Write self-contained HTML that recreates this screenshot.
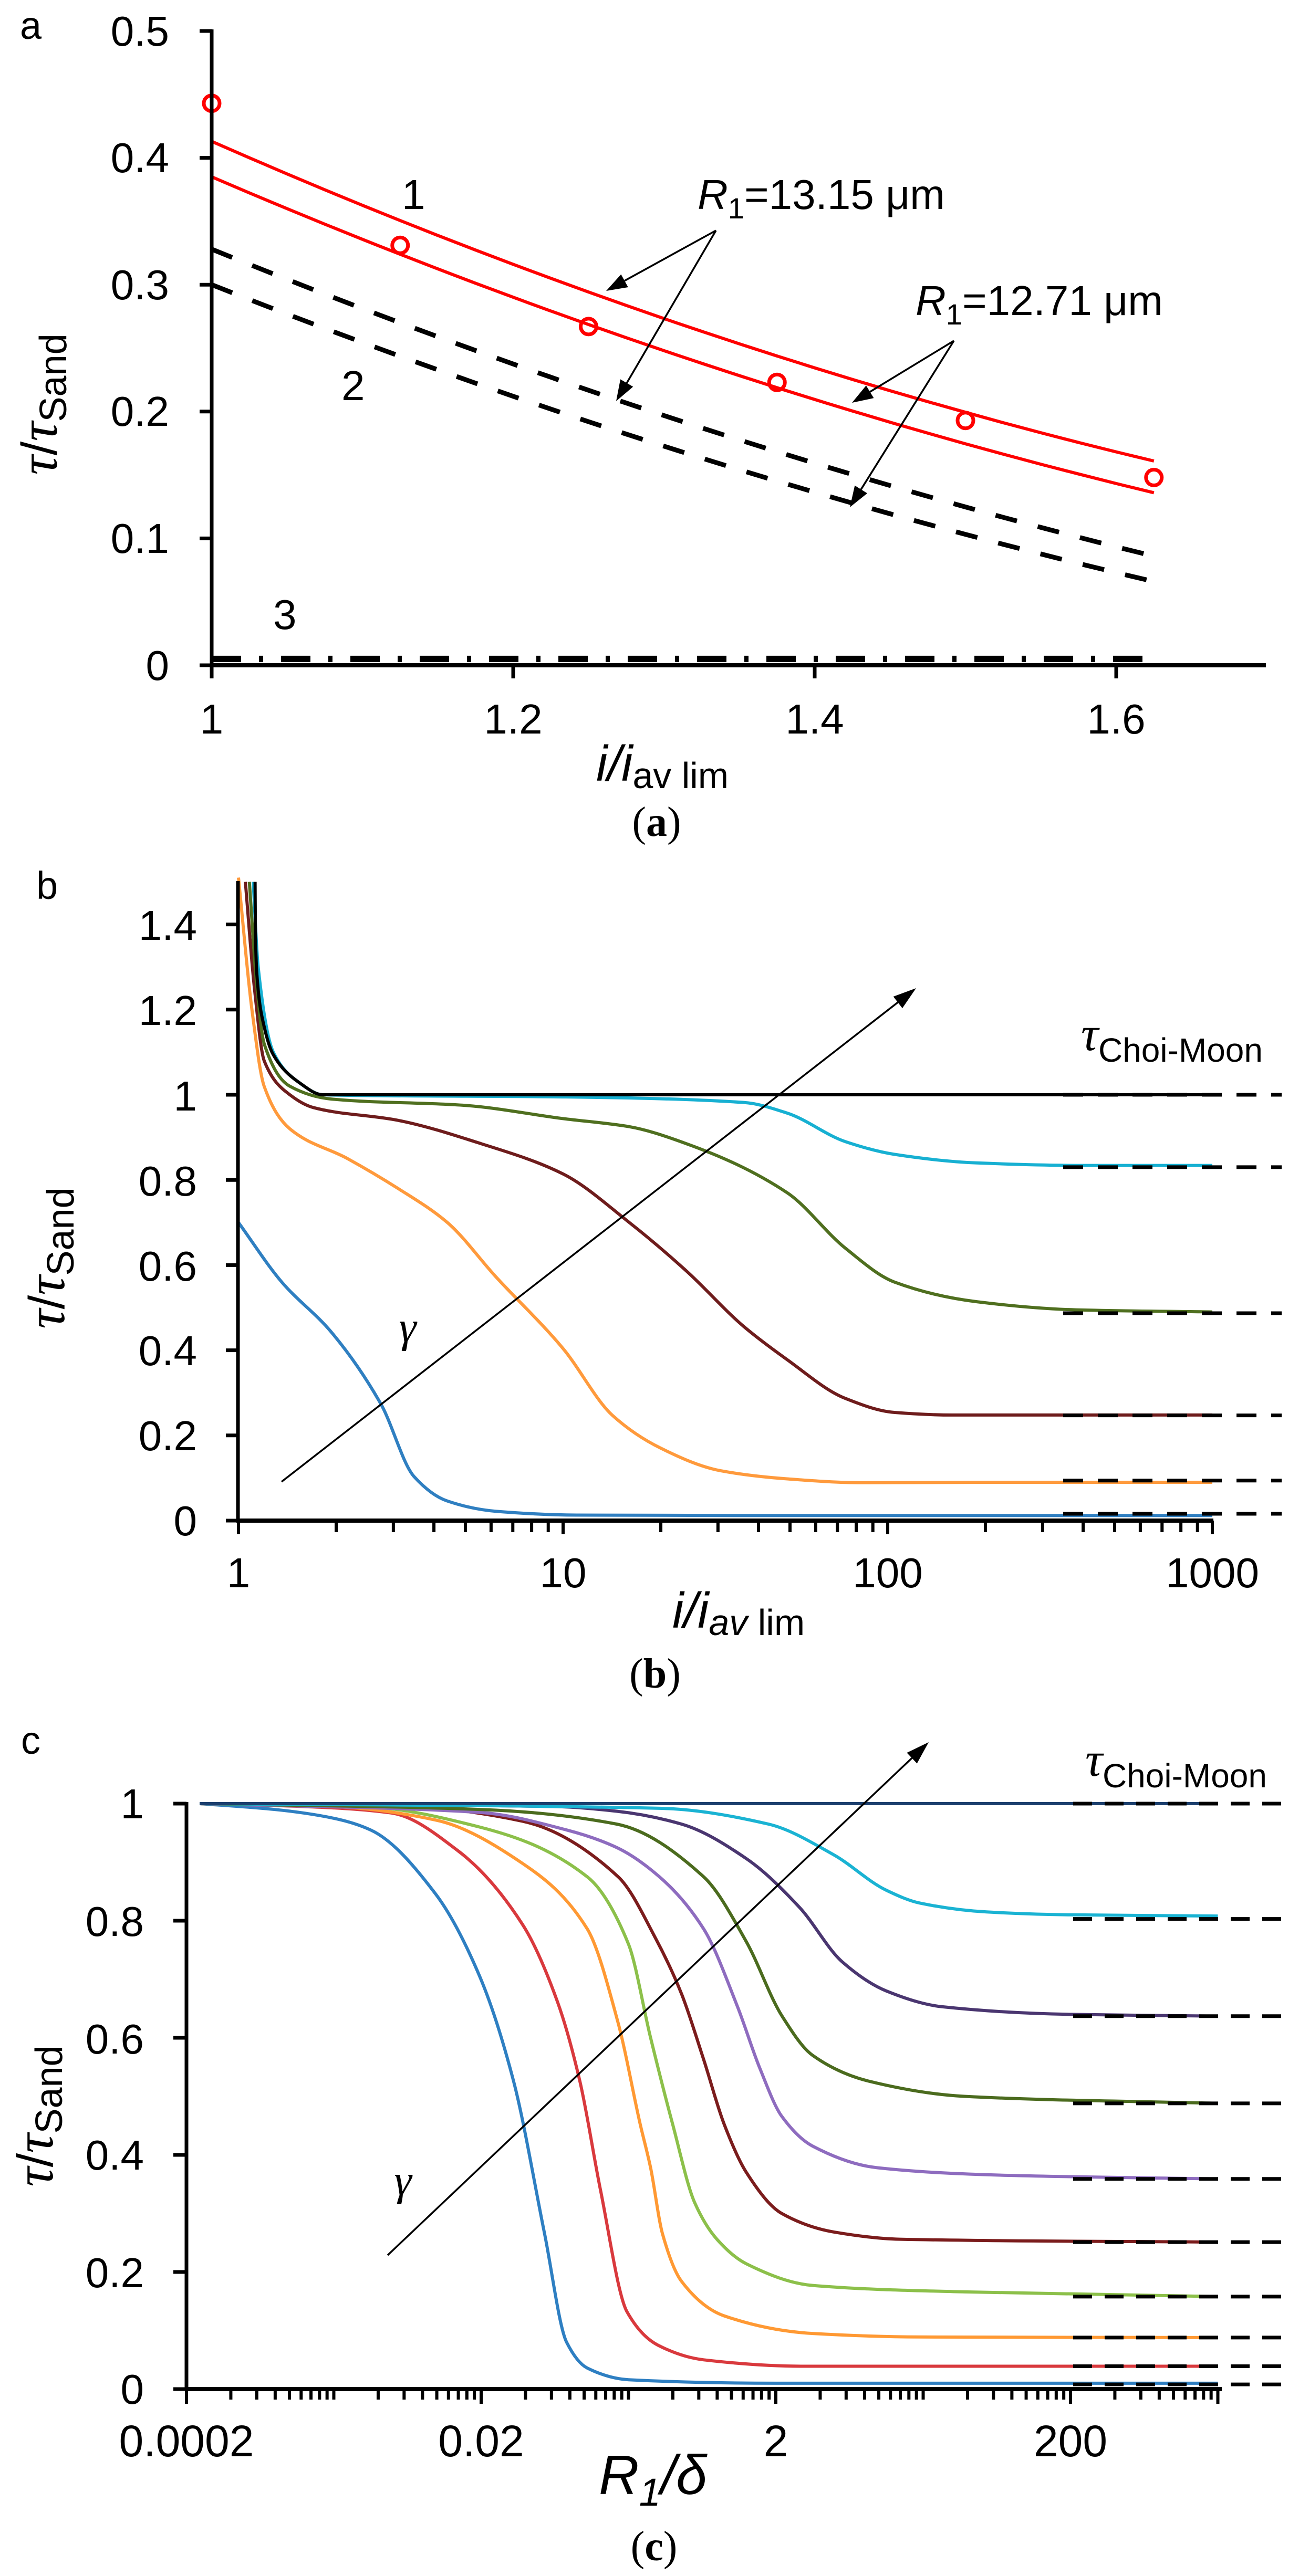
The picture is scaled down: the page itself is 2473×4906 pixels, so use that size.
<!DOCTYPE html>
<html><head><meta charset="utf-8"><style>
html,body{margin:0;padding:0;background:#fff;}
svg{display:block;}
text{font-family:"Liberation Sans",Arial,sans-serif;fill:#000;}
.ser{font-family:"Liberation Serif","Times New Roman",serif;}
</style></head><body>
<svg id="s" xmlns="http://www.w3.org/2000/svg" width="2473" height="4906" viewBox="0 0 2473 4906">
<g id="g"></g>
<!-- Panel a texts -->
<text x="38" y="74" font-size="74">a</text>
<g font-size="80" text-anchor="end">
<text x="322" y="87">0.5</text><text x="322" y="328">0.4</text><text x="322" y="570">0.3</text><text x="322" y="811">0.2</text><text x="322" y="1053">0.1</text><text x="322" y="1295">0</text>
</g>
<g font-size="80" text-anchor="middle">
<text x="403" y="1397">1</text><text x="977" y="1397">1.2</text><text x="1551" y="1397">1.4</text><text x="2125" y="1397">1.6</text>
</g>
<text x="1135" y="1487" font-size="96" font-style="italic">i/i<tspan font-size="70" font-style="normal" dy="14">av lim</tspan></text>
<text class="ser" x="1250" y="1592" font-size="80" text-anchor="middle">(<tspan font-weight="bold">a</tspan>)</text>
<text transform="translate(108,770) rotate(-90)" text-anchor="middle"><tspan class="ser" font-size="104" font-style="italic">τ</tspan><tspan font-size="96">/</tspan><tspan class="ser" font-size="104" font-style="italic">τ</tspan><tspan font-size="72" dy="18">Sand</tspan></text>
<text x="765" y="398" font-size="80">1</text>
<text x="650" y="762" font-size="80">2</text>
<text x="520" y="1198" font-size="80">3</text>
<text x="1328" y="398" font-size="80"><tspan font-style="italic">R</tspan><tspan font-size="56" dy="18">1</tspan><tspan dy="-18">=13.15 μm</tspan></text>
<text x="1743" y="600" font-size="80"><tspan font-style="italic">R</tspan><tspan font-size="56" dy="18">1</tspan><tspan dy="-18">=12.71 μm</tspan></text>

<!-- Panel b texts -->
<text x="69" y="1712" font-size="74">b</text>
<g font-size="80" text-anchor="end">
<text x="375" y="1790">1.4</text><text x="375" y="1952">1.2</text><text x="375" y="2115">1</text><text x="375" y="2277">0.8</text><text x="375" y="2439">0.6</text><text x="375" y="2600">0.4</text><text x="375" y="2762">0.2</text><text x="375" y="2924">0</text>
</g>
<g font-size="80" text-anchor="middle">
<text x="454" y="3023">1</text><text x="1072" y="3023">10</text><text x="1690" y="3023">100</text><text x="2308" y="3023">1000</text>
</g>
<text x="1280" y="3100" font-size="96" font-style="italic">i/i<tspan font-size="70" dy="14">av</tspan><tspan font-size="70" font-style="normal"> lim</tspan></text>
<text class="ser" x="1247" y="3214" font-size="80" text-anchor="middle">(<tspan font-weight="bold">b</tspan>)</text>
<text transform="translate(122,2396) rotate(-90)" text-anchor="middle"><tspan class="ser" font-size="104" font-style="italic">τ</tspan><tspan font-size="96">/</tspan><tspan class="ser" font-size="104" font-style="italic">τ</tspan><tspan font-size="72" dy="18">Sand</tspan></text>
<text class="ser" x="776" y="2555" font-size="84" font-style="italic" text-anchor="middle">γ</text>
<text x="2058" y="2000" font-size="64"><tspan class="ser" font-size="92" font-style="italic">τ</tspan><tspan dy="22">Choi-Moon</tspan></text>

<!-- Panel c texts -->
<text x="40" y="3340" font-size="74">c</text>
<g font-size="80" text-anchor="end">
<text x="274" y="3463">1</text><text x="274" y="3687">0.8</text><text x="274" y="3911">0.6</text><text x="274" y="4132">0.4</text><text x="274" y="4356">0.2</text><text x="274" y="4578">0</text>
</g>
<g font-size="84" text-anchor="middle">
<text x="355" y="4678">0.0002</text><text x="916" y="4678">0.02</text><text x="1477" y="4678">2</text><text x="2038" y="4678">200</text>
</g>
<text x="1140" y="4750" font-size="106" font-style="italic">R<tspan font-size="74" dy="22">1</tspan><tspan dy="-22">/δ</tspan></text>
<text class="ser" x="1245" y="4876" font-size="80" text-anchor="middle">(<tspan font-weight="bold">c</tspan>)</text>
<text transform="translate(100,4030) rotate(-90)" text-anchor="middle"><tspan class="ser" font-size="104" font-style="italic">τ</tspan><tspan font-size="96">/</tspan><tspan class="ser" font-size="104" font-style="italic">τ</tspan><tspan font-size="72" dy="18">Sand</tspan></text>
<text class="ser" x="767" y="4180" font-size="84" font-style="italic" text-anchor="middle">γ</text>
<text x="2066" y="3382" font-size="64"><tspan class="ser" font-size="92" font-style="italic">τ</tspan><tspan dy="22">Choi-Moon</tspan></text>
</svg>
<script>
(function(){
var NS="http://www.w3.org/2000/svg", G=document.getElementById("g");
function el(n,a){var e=document.createElementNS(NS,n);for(var k in a)e.setAttribute(k,a[k]);G.appendChild(e);return e;}
function line(x1,y1,x2,y2,w,c,d){var a={x1:x1,y1:y1,x2:x2,y2:y2,stroke:c||"#000","stroke-width":w};if(d)a["stroke-dasharray"]=d;return el("line",a);}
// monotone cubic (Fritsch-Carlson) in screen coords, x increasing
function spline(p){
  var n=p.length; if(n<2)return "";
  var dx=[],m=[],t=[];
  for(var i=0;i<n-1;i++){dx[i]=p[i+1][0]-p[i][0]; if(dx[i]<=0)dx[i]=0.01; m[i]=(p[i+1][1]-p[i][1])/dx[i];}
  t[0]=m[0]; t[n-1]=m[n-2];
  for(var i=1;i<n-1;i++){ if(m[i-1]*m[i]<=0)t[i]=0; else { var w1=2*dx[i]+dx[i-1],w2=dx[i]+2*dx[i-1]; t[i]=(w1+w2)/(w1/m[i-1]+w2/m[i]); } }
  var d="M"+p[0][0].toFixed(1)+","+p[0][1].toFixed(1);
  for(var i=0;i<n-1;i++){
    var h=dx[i];
    d+="C"+(p[i][0]+h/3).toFixed(1)+","+(p[i][1]+t[i]*h/3).toFixed(1)+" "+(p[i+1][0]-h/3).toFixed(1)+","+(p[i+1][1]-t[i+1]*h/3).toFixed(1)+" "+p[i+1][0].toFixed(1)+","+p[i+1][1].toFixed(1);
  }
  return d;
}
function path(d,w,c,dash){var a={d:d,fill:"none",stroke:c,"stroke-width":w,"stroke-linejoin":"round"};if(dash)a["stroke-dasharray"]=dash;return el("path",a);}
function arrow(x1,y1,x2,y2,w,hl,hw){
  var dx=x2-x1,dy=y2-y1,L=Math.sqrt(dx*dx+dy*dy),ux=dx/L,uy=dy/L;
  var bx=x2-ux*hl,by=y2-uy*hl;
  line(x1,y1,bx,by,w);
  el("polygon",{points:x2+","+y2+" "+(bx-uy*hw)+","+(by+ux*hw)+" "+(bx+uy*hw)+","+(by-ux*hw),fill:"#000"});
}
// ---------- Panel a ----------
var ax=function(v){return 403+(v-1)*2870;}, ay=function(v){return 1267-v*2416;};
function quad(a0,a1,c){var p=[];for(var i=0;i<=25;i++){var t=i/25;p.push([ax(1+0.625*t),ay(a0+(a1-a0)*t+c*t*(t-1))]);}return p;}
path(spline(quad(0.413,0.161,0.075)),6,"#ff0000");
path(spline(quad(0.385,0.136,0.07)),6,"#ff0000");
path(spline(quad(0.328,0.086,0.06)),9,"#000","42 41");
path(spline(quad(0.300,0.066,0.06)),9,"#000","42 41");
line(ax(1),ay(0.005),ax(1.625),ay(0.005),12,"#000","56 34 8 34");
[[1,0.443],[1.125,0.331],[1.25,0.267],[1.375,0.223],[1.5,0.193],[1.625,0.148]].forEach(function(p){
  el("circle",{cx:ax(p[0]),cy:ay(p[1]),r:15,fill:"none",stroke:"#ff0000","stroke-width":7});});
line(403,56,403,1270,7); line(400,1267,2410,1267,8);
for(var v=0;v<=5;v++){line(380,ay(v/10),403,ay(v/10),7);}
[1,1.2,1.4,1.6].forEach(function(v){line(ax(v),1267,ax(v),1292,7);});
arrow(1363,439,1154,554,3.5,40,14); arrow(1363,439,1173,764,3.5,40,14);
arrow(1816,649,1622,767,3.5,40,14); arrow(1816,649,1618,966,3.5,40,14);
// ---------- Panel b ----------
var bx=function(v){return 454+618*Math.log10(v);}, by=function(v){return 2896-811*v;};
function bp(arr){return arr.map(function(p){return [bx(p[0]),by(p[1])];});}
var bC={
blue:["#2f7fc1",[[1,.70],[1.36,.56],[1.93,.443],[2.75,.273],[3.47,.104],[4.4,.046],[6.2,.022],[11,.013],[40,.012],[1000,.012]]],
orange:["#ff9a3c",[[1,1.51],[1.1,1.2],[1.2,1.02],[1.44,.92],[2.17,.85],[3.1,.78],[4.4,.70],[6.2,.573],[10,.404],[14.2,.247],[20,.17],[30.6,.117],[49,.098],[83,.089],[200,.09],[1000,.09]]],
brown:["#6e1c1c",[[1.05,1.5],[1.12,1.25],[1.2,1.08],[1.44,1.0],[1.7,.97],[3.1,.94],[5.6,.885],[10,.814],[16,.70],[24,.586],[36,.456],[49,.378],[74,.287],[105,.254],[158,.248],[1000,.248]]],
green:["#4f6f1f",[[1.08,1.5],[1.14,1.25],[1.2,1.12],[1.44,1.02],[1.93,.99],[5,.975],[10,.944],[16,.925],[24,.885],[49,.77],[74,.64],[105,.56],[188,.514],[380,.495],[1000,.49]]],
cyan:["#17b0d2",[[1.11,1.5],[1.15,1.3],[1.28,1.1],[1.53,1.03],[1.82,1.0],[10,.995],[36,.982],[49,.957],[74,.89],[105,.86],[188,.84],[400,.834],[1000,.834]]],
black:["#000",[[1.125,1.5],[1.127,1.4],[1.14,1.28],[1.2,1.16],[1.28,1.094],[1.53,1.03],[1.82,1.0],[10,1],[1000,1]]]
};
["blue","orange","brown","green","cyan","black"].forEach(function(k){path(spline(bp(bC[k][1])),6,bC[k][0]);});
[1,.83,.487,.247,.094,.016].forEach(function(v){line(2024,by(v),2440,by(v),7,"#000","38 28");});
line(453,1678,453,2899,7); line(450,2896,2310,2896,8);
for(var i=0;i<=7;i++){line(430,by(i*0.2),453,by(i*0.2),7);}
for(var e=0;e<3;e++){for(var k=1;k<10;k++){var xx=bx(k*Math.pow(10,e));line(xx,2896,xx,k==1?2922:2918,6);}}
line(bx(1000),2896,bx(1000),2922,6);
arrow(536,2822,1744,1882,3.5,44,14);
// ---------- Panel c ----------
var cx=function(u){return 355+280.5*u;}, cy=function(v){return 4550-1115*v;};
function cp(arr){return arr.map(function(p){return [cx(p[0]),cy(p[1])];});}
var cC=[
["#2e7fc2",[[0.09,1],[0.6,.99],[1.0,.975],[1.25,.955],[1.69,.846],[1.99,.705],[2.22,.526],[2.43,.266],[2.58,.08],[2.72,.036],[3.0,.016],[4,.01],[7,.01]]],
["#d9393d",[[0.09,1],[0.8,.995],[1.39,.984],[1.84,.92],[2.28,.794],[2.52,.66],[2.67,.526],[2.81,.34],[2.99,.132],[3.2,.075],[3.51,.05],[4.19,.039],[7,.039]]],
["#ff9933",[[0.09,1],[1.0,.995],[1.69,.972],[2.28,.898],[2.72,.786],[2.93,.625],[3.08,.452],[3.15,.378],[3.23,.266],[3.36,.184],[3.65,.125],[4.25,.095],[4.98,.089],[7,.088]]],
["#8cc04a",[[0.09,1],[1.2,.995],[1.99,.96],[2.72,.875],[3.0,.76],[3.15,.6],[3.3,.452],[3.45,.318],[3.6,.256],[3.8,.214],[4.25,.177],[5.28,.166],[7,.158]]],
["#7b1c1c",[[0.09,1],[1.5,.995],[2.28,.97],[2.93,.875],[3.19,.767],[3.36,.675],[3.51,.563],[3.65,.452],[3.8,.37],[4.04,.3],[4.4,.268],[4.84,.256],[7,.251]]],
["#8e6cbf",[[0.09,1],[1.99,.985],[2.58,.955],[2.92,.925],[3.21,.875],[3.51,.786],[3.74,.653],[3.89,.549],[4.04,.466],[4.25,.415],[4.69,.378],[5.58,.365],[7,.359]]],
["#4b6b1e",[[0.09,1],[2.0,.99],[2.92,.965],[3.51,.875],[3.8,.764],[4.04,.638],[4.25,.57],[4.63,.526],[5.28,.5],[7,.488]]],
["#4a3670",[[0.09,1],[2.5,.995],[2.92,.987],[3.36,.965],[3.8,.906],[4.16,.823],[4.45,.73],[4.75,.68],[5.13,.653],[6,.64],[7,.637]]],
["#1ab3d3",[[0.09,1],[3.21,.992],[3.95,.965],[4.39,.913],[4.75,.852],[4.98,.83],[5.43,.815],[6,.81],[7,.808]]],
["#1c3f6e",[[0.09,1],[7,1]]]
];
cC.forEach(function(c){path(spline(cp(c[1])),6,c[0]);});
[1,.803,.637,.488,.359,.251,.158,.088,.039,.008].forEach(function(v){line(2043,cy(v),2452,cy(v),7,"#000","36 24");});
line(355,3432,355,4553,7); line(352,4550,2326,4550,8);
for(var i=0;i<=5;i++){line(330,cy(i*0.2),355,cy(i*0.2),7);}
for(var d=0;d<7;d++){for(var k=1;k<10;k++){var u=d+Math.log10(k);if(u>7)break;var xx=cx(u);var maj=(k==1&&d%2==0);line(xx,4550,xx,maj?4578:4570,6);}}
line(cx(7),4550,cx(7),4578,6);
arrow(738,4295,1768,3318,3.5,44,14);
})();
</script>
</body></html>
